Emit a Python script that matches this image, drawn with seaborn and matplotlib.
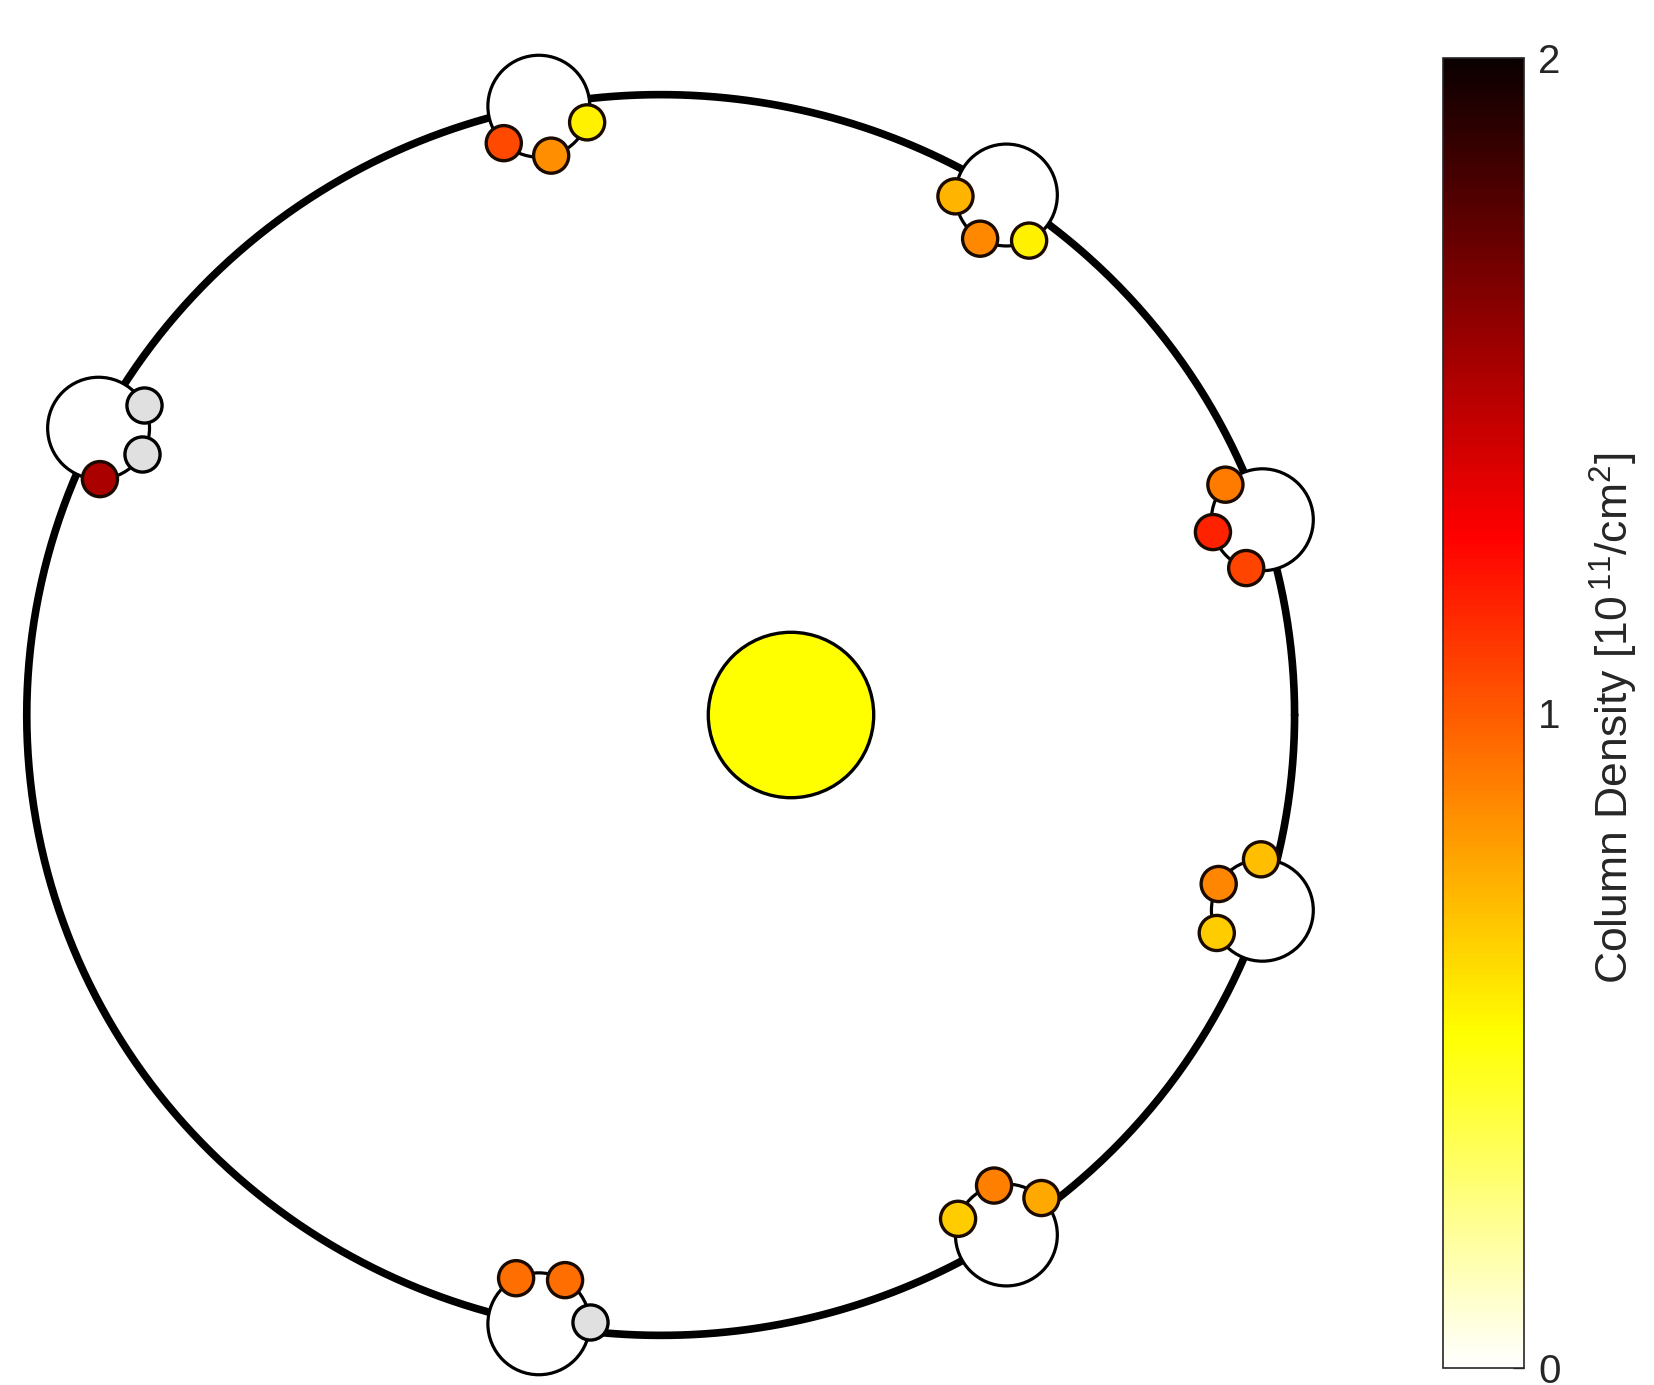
import numpy as np
import pandas as pd
import matplotlib
matplotlib.use("Agg")
import matplotlib.pyplot as plt
from matplotlib.patches import Circle
from matplotlib.colors import Normalize
from matplotlib.cm import ScalarMappable
import seaborn as sns

# Orbit of Mercury (AU), Sun at the focus
semi_major = 0.387
eccentricity = 0.2056

# Planet positions along the orbit (true anomaly, degrees)
true_anomaly = [22.5, 67.5, 112.5, 157.5, 247.5, 292.5, 337.5]

# Column density [1e11 /cm^2] at three points around the planet
# (before, near and after the sub-solar direction); NaN = no data
density_before = [0.90, 0.73, 1.05, 1.52, np.nan, 0.77, 0.70]
density_subsolar = [1.17, 0.86, 0.85, np.nan, 0.94, 0.89, 0.87]
density_after = [1.07, 0.55, 0.55, np.nan, 0.94, 0.66, 0.66]

sample_offsets = [-66.0, -8.5, 49.0]      # degrees from the Sun direction
cbar_ticks = [0, 1, 2]
cbar_label = "Column Density [10$^{\\,11}$/cm$^{2}$]"

sns.set_style("white")
plt.rcParams["font.family"] = ["Liberation Sans", "DejaVu Sans"]
plt.rcParams["mathtext.fontset"] = "custom"
plt.rcParams["mathtext.rm"] = "Liberation Sans"
plt.rcParams["mathtext.default"] = "regular"

fig = plt.figure(figsize=(16.54, 13.85), dpi=100)
ax = fig.add_axes([0, 0, 1400 / 1654, 1])

px_per_au = 1638.0
ax.set_xlim(-791 / px_per_au, (1400 - 791) / px_per_au)
ax.set_ylim((715 - 1385) / px_per_au, 715 / px_per_au)
ax.axis("off")

# Orbit
nu = np.linspace(0, 2 * np.pi, 721)
r = semi_major * (1 - eccentricity ** 2) / (1 + eccentricity * np.cos(nu))
orbit = pd.DataFrame({"x": r * np.cos(nu), "y": r * np.sin(nu)})
sns.lineplot(data=orbit, x="x", y="y", sort=False, estimator=None, color="black",
             linewidth=5.5, ax=ax, zorder=1)

# Sun
ax.add_patch(Circle((0, 0), 0.0505, facecolor="#ffff00", edgecolor="black",
                    linewidth=2.4, zorder=2))

planet_r = 0.0311
rows = []
for k, ta in enumerate(true_anomaly):
    t = np.deg2rad(ta)
    rr = semi_major * (1 - eccentricity ** 2) / (1 + eccentricity * np.cos(t))
    px, py = rr * np.cos(t), rr * np.sin(t)
    ax.add_patch(Circle((px, py), planet_r, facecolor="white", edgecolor="black",
                        linewidth=2.3, zorder=2))
    sun_dir = ta + 180.0
    vals = [density_before[k], density_subsolar[k], density_after[k]]
    for off, v in zip(sample_offsets, vals):
        a = np.deg2rad(sun_dir + off)
        rows.append({"x": px + planet_r * np.cos(a), "y": py + planet_r * np.sin(a),
                     "density": v})

dots = pd.DataFrame(rows)
valid = dots[dots["density"].notna()]
missing = dots[dots["density"].isna()]

dot_size = 640
sns.scatterplot(data=missing, x="x", y="y", color="#e0e0e0", s=dot_size,
                edgecolor="black", linewidth=2.4, ax=ax, zorder=3, legend=False)
sns.scatterplot(data=valid, x="x", y="y", hue="density", palette="hot_r",
                hue_norm=(0, 2), s=dot_size, edgecolor="#1a0a00", linewidth=2.4,
                ax=ax, zorder=3, legend=False)

# Colorbar
cax = fig.add_axes([1443 / 1654, 17 / 1385, 81 / 1654, 1310 / 1385])
sm = ScalarMappable(norm=Normalize(0, 2), cmap="hot_r")
cb = fig.colorbar(sm, cax=cax, ticks=cbar_ticks)
cb.outline.set_edgecolor("#262626")
cb.outline.set_linewidth(1.2)
cax.tick_params(direction="in", length=8, width=1, labelsize=29, pad=10,
                colors="#262626")
fig.text(1614 / 1654, 1 - 718 / 1385, cbar_label, rotation=90, fontsize=32,
         color="#262626", ha="center", va="center")

fig.savefig("out.png", dpi=100, facecolor="white")
